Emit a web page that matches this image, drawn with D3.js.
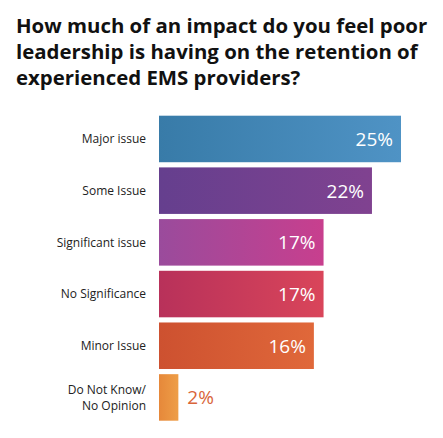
<!DOCTYPE html>
<html>
<head>
<meta charset="utf-8">
<script src="https://cdn.jsdelivr.net/npm/d3@7"></script>
<style>
html,body{margin:0;padding:0;background:#fff;}
svg{display:block;}
</style>
</head>
<body>
<svg id="chart" width="443" height="438"></svg>
<script>
const titleLines = ["How much of an impact do you feel poor","leadership is having on the retention of","experienced EMS providers?"];
const categories = ["Major issue","Some Issue","Significant issue","No Significance","Minor Issue","Do Not Know/\nNo Opinion"];
const values = [25,22,17,17,16,2];
const colorsLeft = ["#387ba8","#653f8e","#9a4b9c","#b8315a","#cd5130","#e6883a"];
const colorsRight = ["#4f93c5","#804290","#c83f8e","#d9455a","#e0683a","#ee9e47"];

const svg = d3.select("#chart");
const font = "'Open Sans', Lato, sans-serif";

svg.append("g").selectAll("text").data(titleLines).join("text")
  .attr("x", 16).attr("y", (d,i)=>33 + i*26)
  .attr("font-family", font).attr("font-weight", 700).attr("font-size", 20.4)
  .attr("fill", "#111").text(d=>d);

const x = d3.scaleLinear().domain([0,25]).range([159,401]);
const y = d3.scaleBand().domain(categories).range([115.7,420.7]).paddingInner(0.1).paddingOuter(0);

const defs = svg.append("defs");
categories.forEach((c,i)=>{
  const g = defs.append("linearGradient").attr("id","g"+i).attr("x1","0%").attr("x2","100%").attr("y1","0%").attr("y2","0%");
  g.append("stop").attr("offset","0%").attr("stop-color",colorsLeft[i]);
  g.append("stop").attr("offset","100%").attr("stop-color",colorsRight[i]);
});

svg.append("g").selectAll("rect").data(values).join("rect")
  .attr("x", x(0)).attr("y",(d,i)=>y(categories[i]))
  .attr("width", d=>x(d)-x(0)).attr("height", y.bandwidth())
  .attr("fill",(d,i)=>`url(#g${i})`);

svg.append("g").selectAll("text").data(values).join("text")
  .attr("x", d=> d>5 ? x(d)-8 : x(d)+9)
  .attr("y",(d,i)=>y(categories[i])+y.bandwidth()/2+7)
  .attr("text-anchor", d=> d>5 ? "end":"start")
  .attr("font-family", font).attr("font-size", 19)
  .attr("fill", d=> d>5 ? "#fff" : "#d9653a")
  .text(d=>d+"%");

const lab = svg.append("g").selectAll("text").data(categories).join("text")
  .attr("x", 146).attr("text-anchor","end")
  .attr("font-family", font).attr("font-size", 12).attr("fill","#222");
lab.each(function(d,i){
  const lines = d.split("\n");
  const cy = y(d)+y.bandwidth()/2;
  const t = d3.select(this);
  lines.forEach((l,j)=>{
    t.append("tspan").attr("x",146).attr("y", cy + 4.3 + (j-(lines.length-1)/2)*16).text(l);
  });
});
</script>
</body>
</html>
